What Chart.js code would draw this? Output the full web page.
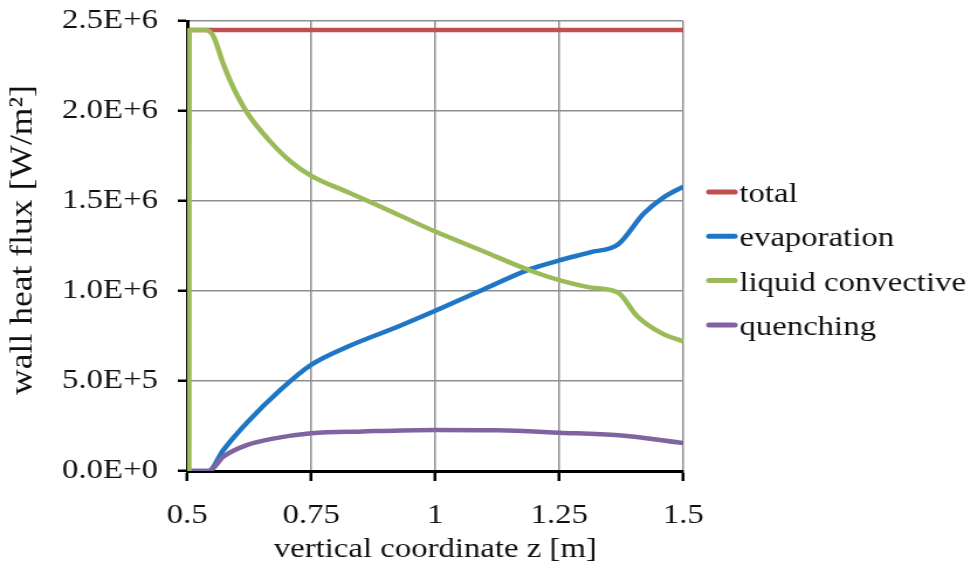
<!DOCTYPE html>
<html>
<head>
<meta charset="utf-8">
<title>wall heat flux</title>
<script src="https://cdn.jsdelivr.net/npm/chart.js@4.4.1/dist/chart.umd.min.js"></script>
<style>
  html, body { margin: 0; padding: 0; background: #fff; overflow: hidden; }
  /* the source figure is stretched sideways, so draw narrow and scale */
  #wrap { width: 830px; height: 571px; transform: scaleX(1.17); transform-origin: 0 0; }
</style>
</head>
<body>
<div id="wrap"><canvas id="chart" width="830" height="571"></canvas></div>
<script>
// tick labels
const xTickLabels = ['0.5', '0.75', '1', '1.25', '1.5'];
const yTickLabels = ['0.0E+0', '5.0E+5', '1.0E+6', '1.5E+6', '2.0E+6', '2.5E+6'];
const xTitle = 'vertical coordinate z [m]';
const yTitle = 'wall heat flux [W/m²]';

// total
const zTotal = [0.504, 1.5];
const qTotal = [2.45e6, 2.45e6];

// evaporation
const zEvap = [0.504, 0.543, 0.573, 0.621, 0.6875, 0.75, 0.823, 0.923, 1.0, 1.09, 1.19, 1.25, 1.312, 1.369, 1.42, 1.46, 1.5];
const qEvap = [0, 0, 0.117e6, 0.27e6, 0.45e6, 0.59e6, 0.69e6, 0.80e6, 0.89e6, 1.0e6, 1.12e6, 1.17e6, 1.215e6, 1.26e6, 1.43e6, 1.52e6, 1.58e6];

// liquid convective
const zLiq = [0.5035, 0.504, 0.536, 0.552, 0.573, 0.593, 0.621, 0.661, 0.708, 0.75, 0.823, 0.889, 1.0, 1.093, 1.19, 1.25, 1.312, 1.369, 1.407, 1.46, 1.5];
const qLiq = [0, 2.45e6, 2.45e6, 2.42e6, 2.26e6, 2.13e6, 1.99e6, 1.85e6, 1.72e6, 1.64e6, 1.55e6, 1.47e6, 1.33e6, 1.225e6, 1.115e6, 1.06e6, 1.02e6, 0.99e6, 0.86e6, 0.76e6, 0.72e6];

// quenching
const zQuench = [0.504, 0.543, 0.573, 0.621, 0.673, 0.75, 0.855, 1.0, 1.125, 1.25, 1.37, 1.5];
const qQuench = [0, 0, 0.08e6, 0.145e6, 0.18e6, 0.21e6, 0.22e6, 0.228e6, 0.226e6, 0.213e6, 0.198e6, 0.155e6];

const FONT = { family: '"Liberation Serif", "Times New Roman", serif', size: 28 };
const FONT_CSS = `${FONT.size}px ${FONT.family}`;

function pts(zs, qs) {
  return zs.map((z, i) => ({ x: z, y: qs[i] }));
}

function series(label, zs, qs, color, order) {
  return {
    label, data: pts(zs, qs),
    borderColor: color, backgroundColor: color,
    borderWidth: 4.5, pointRadius: 0, cubicInterpolationMode: 'monotone', order,
  };
}

// legend on the right: short coloured line, text right after it
const sideLegend = {
  id: 'sideLegend',
  afterDraw(chart) {
    const ctx = chart.ctx;
    ctx.save();
    ctx.font = FONT_CSS;
    ctx.textBaseline = 'alphabetic';
    ctx.lineCap = 'round';
    chart.data.datasets.forEach((ds, i) => {
      const y = 192 + i * 44.3;
      ctx.strokeStyle = ds.borderColor;
      ctx.lineWidth = 5;
      ctx.beginPath();
      ctx.moveTo(606, y);
      ctx.lineTo(628, y);
      ctx.stroke();
      ctx.fillStyle = '#111';
      ctx.fillText(ds.label, 632, y + 10);
    });
    ctx.restore();
  }
};

// rotated y title, widened along its length like the rest of the text
const yTitlePlugin = {
  id: 'yTitle',
  afterDraw(chart) {
    const ctx = chart.ctx;
    const a = chart.chartArea;
    ctx.save();
    ctx.translate(20, (a.top + a.bottom) / 2 - 6);
    ctx.rotate(-Math.PI / 2);
    ctx.scale(1.27, 1);
    ctx.font = FONT_CSS;
    ctx.fillStyle = '#111';
    ctx.textAlign = 'center';
    ctx.textBaseline = 'middle';
    ctx.fillText(yTitle, 0, 0);
    ctx.restore();
  }
};

new Chart(document.getElementById('chart'), {
  type: 'line',
  data: {
    datasets: [
      series('total', zTotal, qTotal, '#c0504d', 3),
      series('evaporation', zEvap, qEvap, '#1f76c4', 2),
      series('liquid convective', zLiq, qLiq, '#9bbb59', 0),
      series('quenching', zQuench, qQuench, '#8064a2', 1),
    ]
  },
  options: {
    responsive: false,
    animation: false,
    devicePixelRatio: 1,
    layout: { padding: { top: 21, right: 246, left: 0, bottom: 0 } },
    scales: {
      x: {
        type: 'linear', min: 0.5, max: 1.5,
        ticks: {
          stepSize: 0.25, color: '#111', font: FONT, padding: 18, maxRotation: 0,
          callback: (v, i) => xTickLabels[i],
        },
        grid: { color: '#8e8e8e', lineWidth: 1.5, tickColor: '#000', tickLength: 10, tickWidth: 2.5 },
        border: { color: '#000', width: 3 },
        title: { display: true, text: xTitle, color: '#111', font: FONT, padding: { top: 0, bottom: 5 } },
        afterFit: s => { s.height = 100; s.paddingLeft = 0; s.paddingRight = 0; },
      },
      y: {
        type: 'linear', min: 0, max: 2.5e6,
        ticks: {
          stepSize: 5e5, color: '#111', font: FONT, padding: 17,
          callback: (v, i) => yTickLabels[i],
        },
        grid: { color: '#8e8e8e', lineWidth: 1.5, tickColor: '#000', tickLength: 8, tickWidth: 2.5 },
        border: { color: '#000', width: 3 },
        title: { display: false },
        afterFit: s => { s.width = 160; s.paddingTop = 0; s.paddingBottom = 0; },
      }
    },
    plugins: {
      legend: { display: false },
      tooltip: { enabled: false },
    }
  },
  plugins: [sideLegend, yTitlePlugin]
});
</script>
</body>
</html>
